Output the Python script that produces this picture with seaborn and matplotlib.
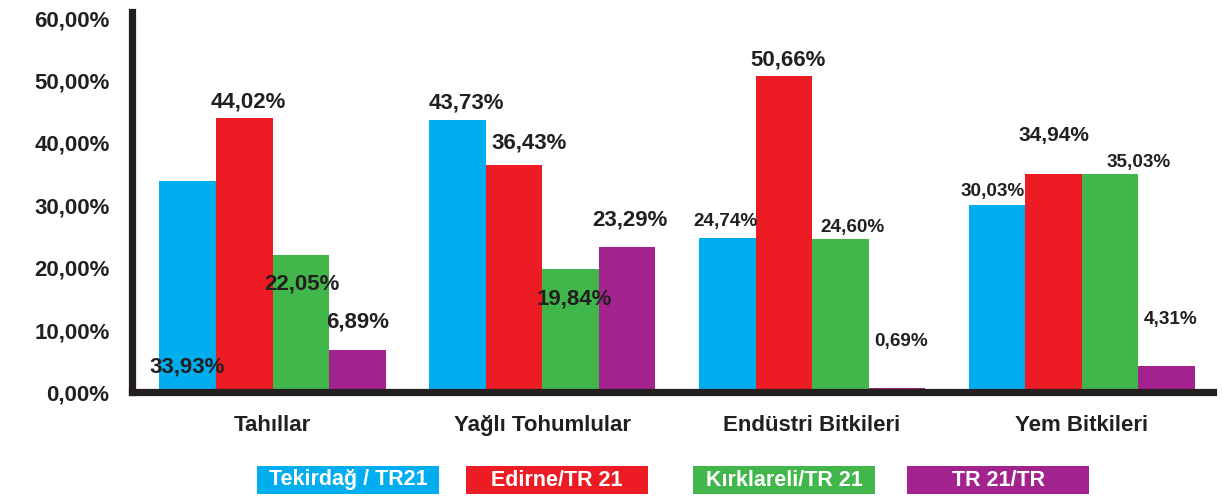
import matplotlib
matplotlib.use("Agg")
import matplotlib.pyplot as plt
import seaborn as sns
import pandas as pd
from matplotlib.ticker import FuncFormatter, MultipleLocator
from matplotlib.patches import Rectangle

# ---------------- data ----------------
categories = ["Tahıllar", "Yağlı Tohumlular", "Endüstri Bitkileri", "Yem Bitkileri"]
series = ["Tekirdağ / TR21", "Edirne/TR 21", "Kırklareli/TR 21", "TR 21/TR"]
tekirdag = [33.93, 43.73, 24.74, 30.03]
edirne = [44.02, 36.43, 50.66, 34.94]
kirklareli = [22.05, 19.84, 24.60, 35.03]
tr21 = [6.89, 23.29, 0.69, 4.31]
y_ticks = [0, 10, 20, 30, 40, 50, 60]

# ---------------- style ----------------
colors = ["#00AEEF", "#ED1C24", "#41B64A", "#A3238E"]
ink = "#231F20"
# label offsets in pixels (dx, dy) and font sizes, per series then per category
label_style = {
    0: [(-1, -186, 16), (9, 17, 16), (-2, 17, 13.6), (-4, 14, 13.6)],
    1: [(4, 16, 16), (15, 22, 16), (4, 16, 16), (0, 39, 15)],
    2: [(1, -29, 16), (4, -30, 16), (12, 12, 13.6), (29, 11, 13.6)],
    3: [(0, 28, 16), (3, 27, 16), (4, 47, 13.6), (4, 46, 13.6)],
}

sns.set_style("white")
plt.rcParams["font.family"] = ["Liberation Sans", "DejaVu Sans"]
plt.rcParams["font.weight"] = "bold"

df = pd.DataFrame({
    "category": categories * 4,
    "series": [s for s in series for _ in categories],
    "value": tekirdag + edirne + kirklareli + tr21,
})

fig = plt.figure(figsize=(12.23, 4.99), dpi=100)
ax = fig.add_axes([0.10834, 0.21343, 0.88348, 0.76152])

sns.barplot(data=df, x="category", y="value", hue="series",
            order=categories, hue_order=series, palette=colors,
            saturation=1, width=0.838, dodge=True, linewidth=0,
            legend=False, ax=ax, errorbar=None)

ax.set_ylim(0, 60.9)
ax.set_xlim(-0.519, 3.486)
ax.yaxis.set_major_locator(MultipleLocator(10))
ax.set_yticks(y_ticks)
ax.yaxis.set_major_formatter(FuncFormatter(lambda v, p: f"{v:.2f}%".replace(".", ",")))
ax.set_xlabel("")
ax.set_ylabel("")

for side in ["top", "right"]:
    ax.spines[side].set_visible(False)
for side in ["left", "bottom"]:
    ax.spines[side].set_color(ink)
    ax.spines[side].set_linewidth(5.2)
    ax.spines[side].set_capstyle("projecting")

ax.tick_params(axis="both", length=0, colors=ink)
ax.tick_params(axis="y", pad=16.5, labelsize=16)
ax.tick_params(axis="x", pad=16, labelsize=16)
for t in ax.get_xticklabels() + ax.get_yticklabels():
    t.set_fontweight("bold")
    t.set_color(ink)

# value labels
for si, cont in enumerate(ax.containers):
    for ci, bar in enumerate(cont):
        h = bar.get_height()
        dx, dy, fs = label_style[si][ci]
        ax.annotate(f"{h:.2f}%".replace(".", ","),
                    xy=(bar.get_x() + bar.get_width() / 2, h),
                    xytext=(dx, dy), textcoords="offset pixels",
                    ha="center", va="center", fontsize=fs,
                    fontweight="bold", color=ink, annotation_clip=False)

# legend as colored boxes
box_left_px = [257, 466, 693, 907]
box_w_px, box_top_px, box_h_px = 182, 466, 28
W, H = 1223, 499
for name, col, lx in zip(series, colors, box_left_px):
    fig.patches.append(Rectangle((lx / W, 1 - (box_top_px + box_h_px) / H),
                                 box_w_px / W, box_h_px / H,
                                 transform=fig.transFigure, facecolor=col,
                                 edgecolor="none"))
    fig.text((lx + box_w_px / 2) / W, 1 - (box_top_px + box_h_px / 2) / H, name,
             ha="center", va="center", color="white", fontsize=15.5,
             fontweight="bold")

fig.savefig("out.png", dpi=100)
